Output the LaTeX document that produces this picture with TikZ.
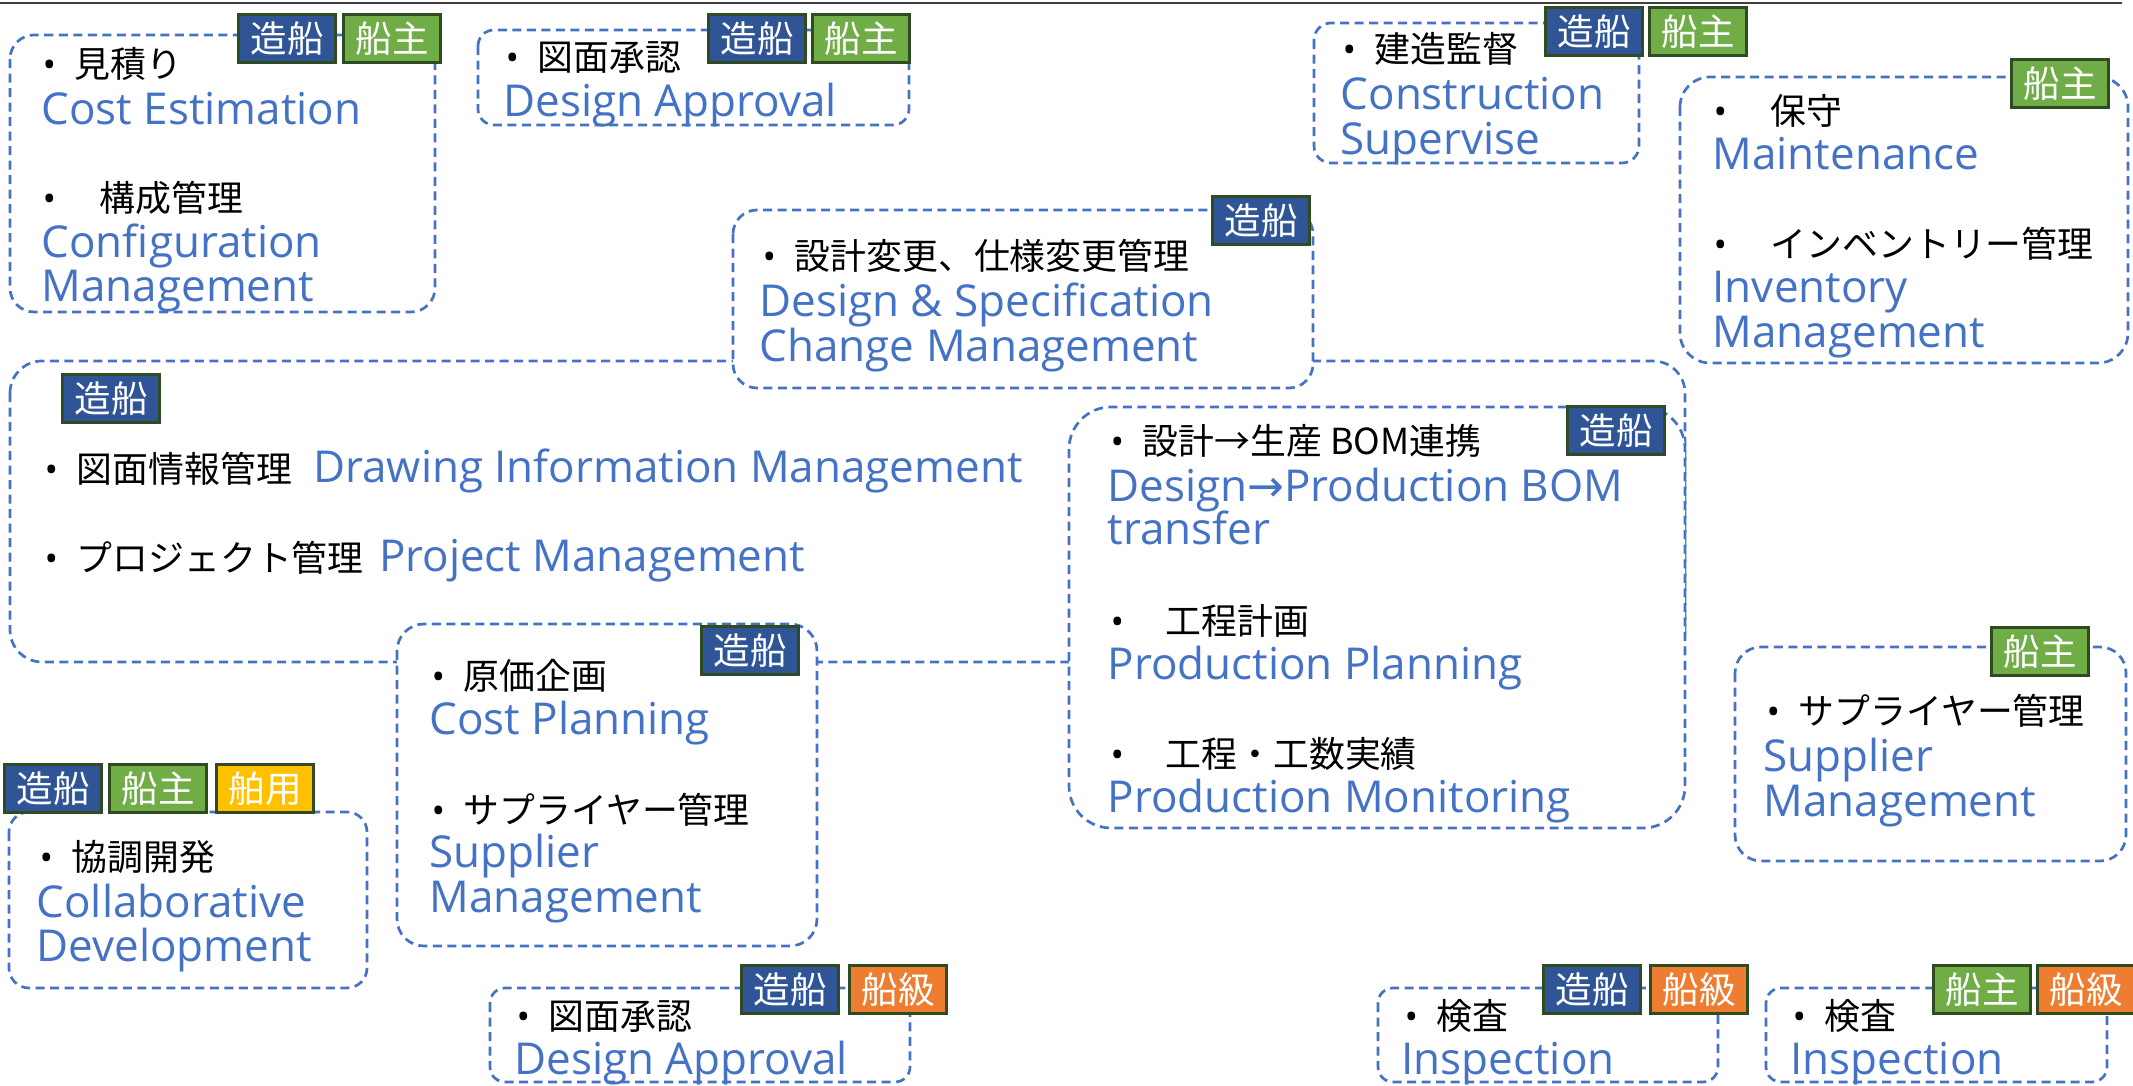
\documentclass[tikz,border=0pt]{standalone}
\usepackage{fontspec}
\setmainfont{Open Sans}
\newfontfamily\jpfont{Noto Sans CJK JP}
\newfontfamily\arrowfont{DejaVu Sans}

\definecolor{areablue}{HTML}{4472C4}
\definecolor{zosenblue}{HTML}{2F5597}
\definecolor{senshugreen}{HTML}{70AD47}
\definecolor{hakuyoyellow}{HTML}{FFC000}
\definecolor{senkyuorange}{HTML}{ED7D31}
\definecolor{badgeline}{RGB}{48,74,34}

\newcommand{\jptext}{\jpfont\fontsize{10.2pt}{12pt}\selectfont}
\newcommand{\entext}{\fontsize{12.5pt}{14pt}\selectfont}
\newcommand{\badgetext}{\jpfont\fontsize{10.4pt}{11pt}\selectfont}
\newcommand{\bul}[1][0.32cm]{\makebox[#1][l]{\normalfont•}}

\begin{document}
\begin{tikzpicture}[x=0.01cm,y=-0.01cm,
	area/.style={draw=areablue,fill=white,line width=0.027cm,dash pattern=on 0.09cm off 0.055cm,rounded corners=#1},
	area/.default=0.24cm,
	badge/.style={draw=badgeline,line width=0.03cm,minimum width=0.97cm,minimum height=0.48cm,inner sep=0pt,anchor=north west,text=white,font=\badgetext},
	zosen/.style={badge,fill=zosenblue},
	senshu/.style={badge,fill=senshugreen},
	hakuyo/.style={badge,fill=hakuyoyellow},
	senkyu/.style={badge,fill=senkyuorange},
	jp/.style={anchor=base west,inner sep=0pt,font=\jptext},
	en/.style={anchor=base west,inner sep=0pt,font=\entext,text=areablue}]
	\useasboundingbox (0,0) rectangle (2133,1086);
	\draw[line width=0.015cm,black!75] (0,3) -- (2122,3);

	% large areas first, the smaller ones lie on top
	\draw[area=0.32cm] (10,361) rectangle (1685,662);
	\draw[area] (733,210) rectangle (1313,388);
	\draw[area=0.27cm] (397,624) rectangle (817,946);
	\draw[area=0.42cm] (1069,407) rectangle (1685,828);
	\draw[area] (10,35) rectangle (435,312);
	\draw[area=0.16cm] (478,30) rectangle (909,125);
	\draw[area=0.17cm] (1314,23) rectangle (1639,163);
	\draw[area=0.30cm] (1680,77) rectangle (2128,363);
	\draw[area=0.26cm] (1735,647) rectangle (2126,861);
	\draw[area=0.2cm] (9,812) rectangle (367,988);
	\draw[area=0.15cm] (490,988) rectangle (910,1082);
	\draw[area=0.15cm] (1378,988) rectangle (1718,1082);
	\draw[area=0.15cm] (1766,988) rectangle (2107,1082);

	% cost estimation / configuration
	\node[jp] (mitsumori) at (42,78) {\bul 見積り};
	\node[en] (mitsumori-en) at (41,125) {Cost Estimation};
	\node[jp] (kosei) at (42,212) {\bul[0.57cm]構成管理};
	\node[en] (kosei-en1) at (41,258) {Configuration};
	\node[en] (kosei-en2) at (41,302) {Management};
	\node[zosen] (mitsumori-z) at (237,13) {造船};
	\node[senshu] (mitsumori-s) at (342,13) {船主};

	% design approval (top)
	\node[jp] (shonin) at (505,71) {\bul 図面承認};
	\node[en] (shonin-en) at (503,117) {Design Approval};
	\node[zosen] (shonin-z) at (707,13) {造船};
	\node[senshu] (shonin-s) at (811,13) {船主};

	% construction supervise
	\node[jp] (kantoku) at (1342,63) {\bul 建造監督};
	\node[en] (kantoku-en1) at (1340,110) {Construction};
	\node[en] (kantoku-en2) at (1340,155) {Supervise};
	\node[zosen] (kantoku-z) at (1544,6) {造船};
	\node[senshu] (kantoku-s) at (1648,6) {船主};

	% maintenance / inventory
	\node[jp] (hoshu) at (1713,125) {\bul[0.57cm]保守};
	\node[en] (hoshu-en) at (1712,170) {Maintenance};
	\node[jp] (zaiko) at (1713,258) {\bul[0.57cm]インベントリー管理};
	\node[en] (zaiko-en1) at (1712,303) {Inventory};
	\node[en] (zaiko-en2) at (1712,348) {Management};
	\node[senshu] (hoshu-s) at (2010,58) {船主};

	% design & specification change
	\node[jp] (henko) at (762,270) {\bul 設計変更、仕様変更管理};
	\node[en] (henko-en1) at (759,317) {Design \& Specification};
	\node[en] (henko-en2) at (759,362) {Change Management};
	\node[zosen] (henko-z) at (1211,195) {造船};

	% drawing information / project
	\node[jp] (zumen) at (44,483) {\bul 図面情報管理};
	\node[en,xshift=0.2cm] (zumen-en) at (zumen.base east) {Drawing Information Management};
	\node[jp] (pj) at (44,572) {\bul プロジェクト管理};
	\node[en,xshift=0.14cm] (pj-en) at (pj.base east) {Project Management};
	\node[zosen] (zumen-z) at (61,373) {造船};

	% cost planning / supplier
	\node[jp] (genka) at (431,690) {\bul 原価企画};
	\node[en] (genka-en) at (429,735) {Cost Planning};
	\node[jp] (supplier) at (431,824) {\bul サプライヤー管理};
	\node[en] (supplier-en1) at (429,868) {Supplier};
	\node[en] (supplier-en2) at (429,913) {Management};
	\node[zosen] (genka-z) at (700,625) {造船};

	% BOM / production
	\node[jp] (bom) at (1110,455) {\bul 設計→生産 BOM連携};
	\node[en] (bom-en1) at (1107,502) {Design{\arrowfont →}Production BOM};
	\node[en] (bom-en2) at (1107,545) {transfer};
	\node[jp] (keikaku) at (1110,635) {\bul[0.55cm]工程計画};
	\node[en] (keikaku-en) at (1107,680) {Production Planning};
	\node[jp] (jisseki) at (1110,768) {\bul[0.55cm]工程・工数実績};
	\node[en] (jisseki-en) at (1107,813) {Production Monitoring};
	\node[zosen] (bom-z) at (1566,405) {造船};

	% supplier (owner)
	\node[jp] (supplier2) at (1766,725) {\bul サプライヤー管理};
	\node[en] (supplier2-en1) at (1763,772) {Supplier};
	\node[en] (supplier2-en2) at (1763,817) {Management};
	\node[senshu] (supplier2-s) at (1990,626) {船主};

	% collaborative development
	\node[jp] (kyocho) at (39,871) {\bul 協調開発};
	\node[en] (kyocho-en1) at (36,918) {Collaborative};
	\node[en] (kyocho-en2) at (36,962) {Development};
	\node[zosen] (kyocho-z) at (3,763) {造船};
	\node[senshu] (kyocho-s) at (108,763) {船主};
	\node[hakuyo] (kyocho-h) at (215,763) {舶用};

	% design approval (bottom)
	\node[jp] (shonin2) at (516,1030) {\bul 図面承認};
	\node[en] (shonin2-en) at (514,1075) {Design Approval};
	\node[zosen] (shonin2-z) at (740,964) {造船};
	\node[senkyu] (shonin2-k) at (848,964) {船級};

	% inspections
	\node[jp] (kensa1) at (1404,1030) {\bul 検査};
	\node[en] (kensa1-en) at (1401,1075) {Inspection};
	\node[zosen] (kensa1-z) at (1542,964) {造船};
	\node[senkyu] (kensa1-k) at (1649,964) {船級};
	\node[jp] (kensa2) at (1792,1030) {\bul 検査};
	\node[en] (kensa2-en) at (1790,1075) {Inspection};
	\node[senshu] (kensa2-s) at (1932,964) {船主};
	\node[senkyu] (kensa2-k) at (2036,964) {船級};
\end{tikzpicture}
\end{document}
